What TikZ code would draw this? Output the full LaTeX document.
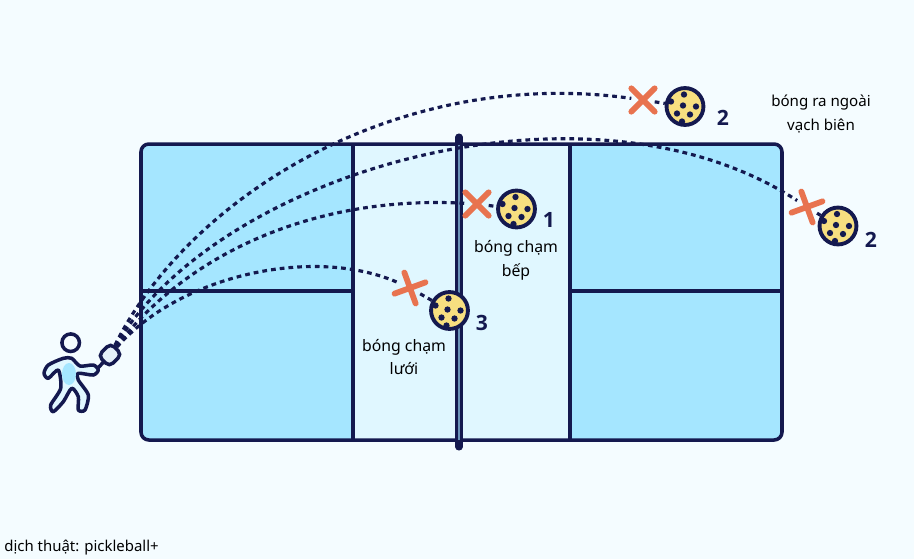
\documentclass[tikz,border=0pt]{standalone}
\usepackage{fontspec}
\setmainfont{Noto Sans}
\newfontfamily\numfont{Open Sans}
\usetikzlibrary{shapes.misc}
\definecolor{pagebg}{HTML}{F4FCFF}
\definecolor{courtblue}{HTML}{A5E6FF}
\definecolor{kitchenblue}{HTML}{E0F7FF}
\definecolor{navy}{HTML}{14194F}
\definecolor{ballyellow}{HTML}{F7DF80}
\definecolor{crossorange}{HTML}{E8734F}
\definecolor{paddlegrey}{HTML}{E3EEF8}
\tikzset{
    courtline/.style = {draw = navy, line width = 2pt},
    flight/.style = {navy, line width = 1.8pt, dash pattern = on 2.7pt off 2.3pt},
    ball/.style = {circle, draw = navy, line width = 2.2pt, fill = ballyellow, minimum size = 21pt, inner sep = 0pt},
    xmark/.style = {cross out, draw = crossorange, line width = 3.3pt, line cap = round, minimum size = 10pt, inner sep = 0pt},
    balllabel/.style = {text = navy, font = \fontsize{12}{12}\selectfont\numfont\bfseries},
    caption/.style = {align = center, text = black, font = \fontsize{9}{13.5}\selectfont}
}
\begin{document}
\begin{tikzpicture}[x = 0.02cm, y = -0.02cm]
        \fill[pagebg] (0,0) rectangle (914,559);
        \useasboundingbox (0,0) rectangle (914,559);
        \fill[courtblue, rounded corners = 4.5pt] (141,144) rectangle (782,440);
        \fill[kitchenblue] (353,144) rectangle (570,440);
        \draw[courtline, rounded corners = 4.5pt] (141,144) rectangle (782,440);
        \draw[courtline] (353,144) -- (353,440);
        \draw[courtline] (570,144) -- (570,440);
        \draw[courtline] (141,291) -- (353,291);
        \draw[courtline] (570,291) -- (782,291);
        \draw[navy, line width = 4pt, line cap = round] (459,137) -- (459,447);
        \draw[courtblue!60!navy, line width = 0.8pt] (459,145) -- (459,440);
        \draw[navy, line width = 2pt, fill = kitchenblue, line join = round]
            plot[smooth cycle, tension = 0.45] coordinates {
            (63.3,358.3) (48.3,365) (44,373.3) (48.3,378.3) (58.3,370)
            (60.7,388.3) (50.7,405) (53.3,411.7) (63.3,401.7) (71.7,388.3)
            (78.3,396.7) (78.3,410) (85,410) (88.3,395) (78.3,380)
            (78.3,373.3) (93.3,375) (98.3,370) (93.3,365) (80,366)
            (71.7,358.3)};
        \fill[courtblue] (69,374) ellipse (7 and 11);
        \node[circle, draw = navy, line width = 2pt, fill = pagebg, minimum size = 10pt, inner sep = 0pt] (head) at (70.7,342.7) {};
        \draw[navy, line width = 2pt] (98,368) -- (110,355);
        \node[draw = navy, line width = 2pt, fill = paddlegrey, rounded corners = 3pt, minimum width = 9pt, minimum height = 10pt, inner sep = 0pt, rotate = -45] (paddle) at (110,355) {};
        \node[ball] (ballfar) at (685,106.5) {};
        \node[ball] (ballwide) at (838,226) {};
        \node[ball] (ballbase) at (516.5,209) {};
        \node[ball] (ballnet) at (449.5,310.5) {};
        \foreach \bname in {ballfar, ballwide, ballbase, ballnet}
            \foreach \dx/\dy in {-1/-12, -2/-1, 11/0, -8/7, 5/8, -14/-5, -3/15}
                \fill[navy] ([shift = {(\dx,\dy)}]\bname.center) circle (1.8pt);
        \node[xmark] (xfar) at (643,100) {};
        \node[xmark, rotate = -25] (xwide) at (807,207) {};
        \node[xmark] (xbase) at (477,204) {};
        \node[xmark, rotate = -25] (xnet) at (410,288) {};
        \draw[flight] (paddle) .. controls (190,195) and (400,66) .. (xfar);
        \draw[flight] (xfar) -- (ballfar);
        \draw[flight] (paddle) .. controls (220,170) and (590,65) .. (xwide);
        \draw[flight] (xwide) -- (ballwide);
        \draw[flight] (paddle) .. controls (190,250) and (320,195) .. (xbase);
        \draw[flight] (xbase) -- (ballbase);
        \draw[flight] (paddle) .. controls (180,275) and (315,245) .. (xnet);
        \draw[flight] (xnet) -- (ballnet);
        \node[balllabel] (numfar) at (723,118) {2};
        \node[balllabel] (numwide) at (871,240) {2};
        \node[balllabel] (numbase) at (549,220) {1};
        \node[balllabel] (numnet) at (482,323) {3};
        \node[caption, font = \fontsize{8.6}{14}\selectfont] (capout) at (821,114) {bóng ra ngoài\\vạch biên};
        \node[caption] (capbase) at (516,260) {bóng chạm\\bếp};
        \node[caption] (capnet) at (404,357) {bóng chạm\\lưới};
        \node[caption, anchor = west, inner sep = 0pt, font = \fontsize{8.5}{10}\selectfont] (credit) at (4,548) {dịch thuật: pickleball+};
\end{tikzpicture}
\end{document}
